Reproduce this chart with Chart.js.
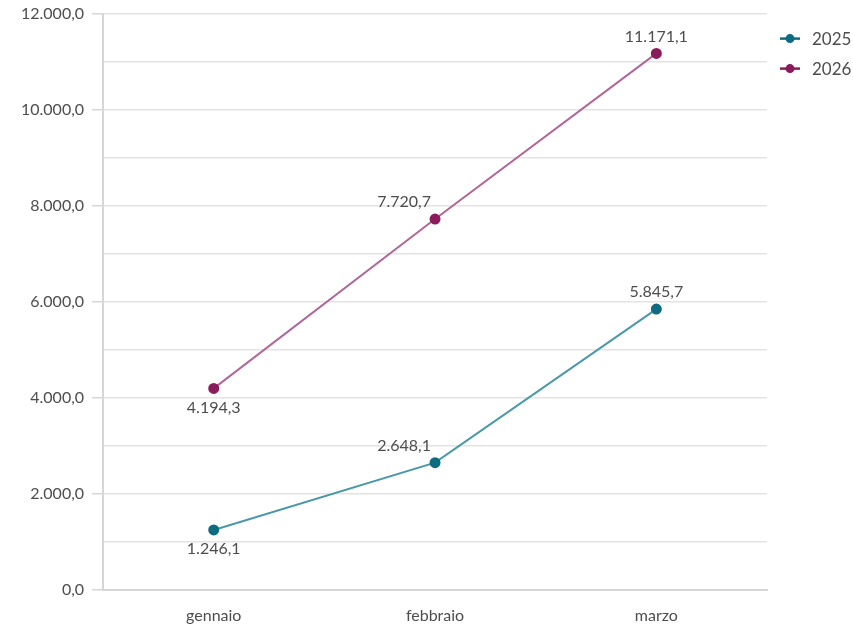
<!DOCTYPE html>
<html>
<head>
<meta charset="utf-8">
<script src="https://cdn.jsdelivr.net/npm/chart.js@4"></script>
<style>
  html, body { margin: 0; padding: 0; background: #fff; }
  #wrap { width: 853px; height: 626px; }
</style>
</head>
<body>
<div id="wrap"><canvas id="myChart"></canvas></div>
<script>
// ===== Data =====
const months = ["gennaio", "febbraio", "marzo"];
const values2025 = [1246.1, 2648.1, 5845.7];
const values2026 = [4194.3, 7720.7, 11171.1];
const seriesNames = ["2025", "2026"];

// where each value label sits relative to its point
const labelPlace2025 = ["below", "aboveLeft", "above"];
const labelPlace2026 = ["below", "aboveLeft", "above"];

const teal = "#0f6b80", tealLine = "#4a98a8";
const plum = "#8a1c5c", plumLine = "#b0679a";
const textGray = "#4d4d4d";
const fontFam = "Lato, 'Open Sans', sans-serif";

// ===== Italian number format (1.234,5) =====
function fmt(v) {
  let parts = v.toFixed(1).split(".");
  parts[0] = parts[0].replace(/\B(?=(\d{3})+(?!\d))/g, ".");
  return parts[0] + "," + parts[1];
}

// ===== Value labels + side legend plugin =====
const valueLabels = {
  id: "valueLabels",
  afterDatasetsDraw(chart) {
    const ctx = chart.ctx;
    const places = [labelPlace2025, labelPlace2026];
    ctx.save();
    ctx.font = "16px " + fontFam;
    ctx.fillStyle = textGray;
    ctx.textBaseline = "middle";
    ctx.textAlign = "center";
    chart.data.datasets.forEach((ds, i) => {
      chart.getDatasetMeta(i).data.forEach((pt, j) => {
        let x = pt.x, y = pt.y;
        const p = places[i][j];
        if (p === "below") { y += 19; }
        else if (p === "aboveLeft") { x -= 31; y -= 17; }
        else { y -= 17; }
        ctx.fillText(fmt(ds.data[j]), x, y);
      });
    });

    // legend at the right of the plot, one row per series
    const lx = chart.chartArea.right + 23;
    ctx.textAlign = "left";
    ctx.font = "17px " + fontFam;
    chart.data.datasets.forEach((ds, i) => {
      const y = chart.chartArea.top + 25 + i * 30;
      ctx.strokeStyle = ds.backgroundColor;
      ctx.lineWidth = 2.5;
      ctx.beginPath(); ctx.moveTo(lx - 10, y); ctx.lineTo(lx + 10, y); ctx.stroke();
      ctx.fillStyle = ds.backgroundColor;
      ctx.beginPath(); ctx.arc(lx, y, 4.5, 0, Math.PI * 2); ctx.fill();
      ctx.fillStyle = textGray;
      ctx.fillText(ds.label, lx + 22, y + 1);
    });
    ctx.restore();
  }
};

// ===== Chart =====
let ctx = document.getElementById("myChart").getContext("2d");

let chart = new Chart(ctx, {
  type: "line",
  data: {
    labels: months,
    datasets: [
      {
        label: seriesNames[0],
        data: values2025,
        borderColor: tealLine,
        backgroundColor: teal,
        pointBackgroundColor: teal,
        pointBorderColor: teal,
        pointRadius: 4.5,
        borderWidth: 2,
        tension: 0
      },
      {
        label: seriesNames[1],
        data: values2026,
        borderColor: plumLine,
        backgroundColor: plum,
        pointBackgroundColor: plum,
        pointBorderColor: plum,
        pointRadius: 4.5,
        borderWidth: 2,
        tension: 0
      }
    ]
  },
  options: {
    responsive: true,
    maintainAspectRatio: false,
    animation: false,
    layout: { padding: { top: 0, left: 13, right: 86, bottom: -15 } },
    plugins: {
      tooltip: { enabled: false },
      legend: { display: false }
    },
    scales: {
      x: {
        offset: true,
        grid: { display: false, drawTicks: false },
        border: { color: "#d6d6d6", width: 2 },
        ticks: {
          color: textGray,
          padding: 16,
          font: { size: 16, family: fontFam }
        }
      },
      y: {
        min: 0,
        max: 12000,
        border: { color: "#d6d6d6", width: 2 },
        grid: {
          color: "#e4e4e4",
          lineWidth: 1.5,
          tickLength: 11,
          tickColor: (c) => (c.tick && c.tick.value % 2000 === 0) ? "#d6d6d6" : "rgba(0,0,0,0)"
        },
        ticks: {
          stepSize: 1000,
          autoSkip: false,
          color: textGray,
          padding: 8,
          font: { size: 16, family: fontFam, lineHeight: 0.7 },
          callback: (v) => (v % 2000 === 0) ? fmt(v) : ""
        }
      }
    }
  },
  plugins: [valueLabels]
});
</script>
</body>
</html>
